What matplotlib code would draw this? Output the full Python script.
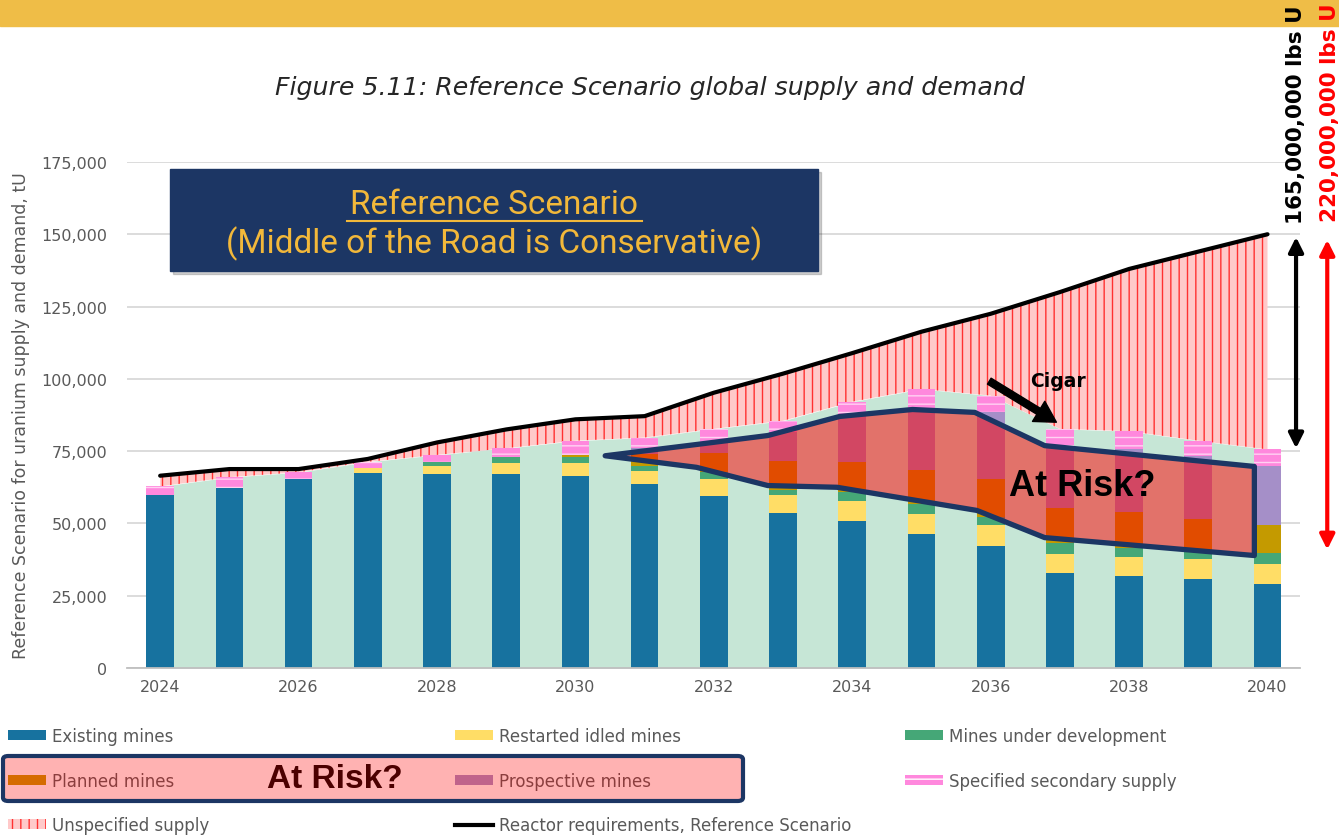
import numpy as np
import matplotlib
matplotlib.use('Agg')
import matplotlib.pyplot as plt
from matplotlib.patches import Rectangle, FancyBboxPatch, Polygon
from matplotlib.lines import Line2D
from matplotlib.ticker import FuncFormatter

years = list(range(2024, 2041))

# supply components, tU
existing = [59800, 62200, 65400, 67400, 67000, 67000, 66500, 63800, 59600, 53500,
            51000, 46400, 42300, 32700, 31700, 30800, 29000]
restarted = [0, 0, 0, 1900, 2800, 3900, 4400, 4400, 5800, 6300,
             6800, 6900, 7200, 6700, 6800, 6900, 7100]
under_dev = [0, 0, 0, 0, 1600, 2200, 2200, 1600, 2300, 1900,
             2900, 3400, 2600, 4000, 3100, 2300, 3700]
planned = [0, 0, 0, 0, 0, 0, 500, 4200, 6700, 10000,
           10400, 11800, 13300, 11900, 12300, 11500, 9800]
prospective = [0, 0, 0, 0, 0, 0, 0, 2000, 3600, 9800,
               16200, 19900, 23000, 21000, 21800, 21900, 20100]
secondary = [3000, 3800, 2300, 2000, 2300, 2900, 5000, 3700, 4700, 4000,
             4800, 8100, 5800, 6400, 6200, 5200, 5900]
reactor_req = [66500, 68800, 68800, 72300, 78000, 82500, 86000, 87100, 95200, 101800,
               108900, 116300, 122500, 130000, 138000, 144000, 150000]

# "cigar" annotation outline (year, tU)
cigar_x = [2030.43, 2031.75, 2032.78, 2033.82, 2034.87, 2035.77, 2036.78, 2039.81,
           2039.81, 2036.78, 2035.8, 2033.78, 2032.78, 2031.75]
cigar_y = [73400, 77300, 80400, 87000, 89400, 88400, 76900, 69700,
           38900, 45100, 54500, 62500, 63100, 69400]

names = ['Existing mines', 'Restarted idled mines', 'Mines under development',
         'Planned mines', 'Prospective mines', 'Specified secondary supply']
colors = ['#17729f', '#ffdd66', '#45a777', '#c49a00', '#a58fc8', '#ff88dd']

navy = '#1c3664'
grey = '#595959'

fig = plt.figure(figsize=(13.39, 8.37), dpi=100)
ax = fig.add_axes([0.0948, 0.2007, 0.8761, 0.6046])

x = np.array(years)
stack = np.array([existing, restarted, under_dev, planned, prospective, secondary], dtype=float)
total = stack.sum(axis=0)
req = np.array(reactor_req, dtype=float)

# mint backdrop between the bars
ax.fill_between(x, 0, total, color='#c6e6d6', lw=0, zorder=1)

# unspecified supply
ax.fill(np.concatenate([x, x[::-1]]), np.concatenate([req, total[::-1]]),
        facecolor='#ffc9c9', edgecolor='#ff3030', hatch='||', lw=0, zorder=1.5)

bottom = np.zeros(len(years))
for i in range(len(names)):
    if names[i] == 'Specified secondary supply':
        ax.bar(x, stack[i], 0.4, bottom=bottom, facecolor=colors[i], edgecolor='#ffd2f2',
               hatch='--', lw=0, zorder=2)
    else:
        ax.bar(x, stack[i], 0.4, bottom=bottom, color=colors[i], lw=0, zorder=2)
    bottom += stack[i]

ax.plot(x, req, color='black', lw=3, zorder=3, solid_capstyle='round')

# cigar overlay
ax.add_patch(Polygon(np.column_stack([cigar_x, cigar_y]), closed=True,
                     facecolor=(1, 0, 0, 0.5), edgecolor=navy, lw=3.8, zorder=4,
                     joinstyle='round'))
ax.text(2037.33, 63000, 'At Risk?', fontsize=26, fontweight='bold', family='Liberation Sans',
        ha='center', va='center', zorder=5)
ax.annotate('', xy=(2036.95, 85000), xytext=(2035.98, 99200),
            arrowprops=dict(facecolor='black', edgecolor='black', width=5, headwidth=17,
                            headlength=15, shrink=0), zorder=5)
ax.text(2036.97, 99300, 'Cigar', fontsize=13.5, fontweight='bold', ha='center', va='center',
        zorder=5)

ax.set_xlim(2023.52, 2040.47)
ax.set_ylim(0, 175000)
ax.set_yticks(np.arange(0, 175001, 25000))
ax.set_xticks(np.arange(2024, 2041, 2))
ax.yaxis.set_major_formatter(FuncFormatter(lambda v, p: '{:,.0f}'.format(v)))
ax.tick_params(length=0, labelsize=11.5, labelcolor=grey)
ax.tick_params(axis='y', pad=14)
ax.tick_params(axis='x', pad=8)
ax.grid(axis='y', color='#d9d9d9', lw=1.3)
ax.set_axisbelow(True)
for s in ['top', 'right', 'left']:
    ax.spines[s].set_visible(False)
ax.spines['bottom'].set_color('#bfbfbf')
ax.spines['bottom'].set_linewidth(1.3)
ax.set_ylabel('Reference Scenario for uranium supply and demand, tU', fontsize=12.5,
              color=grey, labelpad=8)

# right hand arrows
ax.annotate('', xy=(0.9966, 150000), xytext=(0.9966, 75000),
            xycoords=ax.get_yaxis_transform(), textcoords=ax.get_yaxis_transform(),
            arrowprops=dict(arrowstyle='<|-|>', color='black', lw=3, mutation_scale=22),
            annotation_clip=False)
ax.annotate('', xy=(1.0232, 149000), xytext=(1.0232, 40000),
            xycoords=ax.get_yaxis_transform(), textcoords=ax.get_yaxis_transform(),
            arrowprops=dict(arrowstyle='<|-|>', color='red', lw=3, mutation_scale=22),
            annotation_clip=False)

# banner and title
fig.patches.append(Rectangle((0, 1 - 27 / 837), 1, 27 / 837, transform=fig.transFigure,
                             color='#efbd47', zorder=0))
fig.text(650 / 1339, 1 - 88 / 837, 'Figure 5.11: Reference Scenario global supply and demand',
         ha='center', va='center', fontsize=18.2, style='italic', color='#262626')
fig.text(1296 / 1339, 1 - 224 / 837, '165,000,000 lbs U', rotation=90, ha='center', va='bottom',
         fontsize=15.5, fontweight='bold', color='black', zorder=6)
fig.text(1330 / 1339, 1 - 222 / 837, '220,000,000 lbs U', rotation=90, ha='center', va='bottom',
         fontsize=15.5, fontweight='bold', color='red', zorder=6)

# navy scenario box
fig.patches.append(Rectangle((173 / 1339, 1 - 275 / 837), 648 / 1339, 102 / 837,
                             transform=fig.transFigure, color='black', alpha=0.18, zorder=5))
fig.patches.append(Rectangle((170 / 1339, 1 - 272 / 837), 648 / 1339, 102 / 837,
                             transform=fig.transFigure, color=navy, zorder=6))
fig.text(494 / 1339, 1 - 205 / 837, 'Reference Scenario', ha='center', va='center',
         fontsize=24, family='Roboto', color='#f2b83a', zorder=7)
fig.text(494 / 1339, 1 - 244 / 837, '(Middle of the Road is Conservative)', ha='center',
         va='center', fontsize=24, family='Roboto', color='#f2b83a', zorder=7)
fig.lines.append(Line2D([347 / 1339, 642 / 1339], [1 - 222 / 837, 1 - 222 / 837],
                        transform=fig.transFigure, color='#f2b83a', lw=1.5, zorder=7))

# legend, three columns
handles = {}
for i in range(len(names)):
    if names[i] == 'Specified secondary supply':
        handles[names[i]] = Rectangle((0, 0), 1, 1, facecolor=colors[i], edgecolor='white',
                                      hatch='--', lw=0)
    else:
        handles[names[i]] = Rectangle((0, 0), 1, 1, color=colors[i], lw=0)
handles['Unspecified supply'] = Rectangle((0, 0), 1, 1, facecolor='#ffc9c9',
                                          edgecolor='#ff3030', hatch='||', lw=0)
handles['Reactor requirements, Reference Scenario'] = Line2D([], [], color='black', lw=3)

cols = [['Existing mines', 'Planned mines', 'Unspecified supply'],
        ['Restarted idled mines', 'Prospective mines', 'Reactor requirements, Reference Scenario'],
        ['Mines under development', 'Specified secondary supply']]
col_x = [8, 455, 905]
for cx, col in zip(col_x, cols):
    fig.legend([handles[n] for n in col], col, loc='upper left',
               bbox_to_anchor=(cx / 1339, 1 - 728 / 837), frameon=False, fontsize=12,
               labelcolor=grey, handlelength=2.3, handleheight=0.55, handletextpad=0.35,
               labelspacing=1.6, borderpad=0, borderaxespad=0)

# "at risk" box over the legend
fig.text(335 / 1339, 1 - 780 / 837, 'At Risk?', ha='center', va='center', fontsize=24,
         fontweight='bold', family='Liberation Sans', color='black', zorder=8)
fig.patches.append(FancyBboxPatch((3 / 1339, 1 - 802 / 837), 740 / 1339, 45 / 837,
                                  boxstyle='round,pad=0,rounding_size=0.004',
                                  transform=fig.transFigure, facecolor=(1, 0, 0, 0.3),
                                  edgecolor=navy, lw=3, zorder=10))

fig.savefig('out.png', dpi=100)
